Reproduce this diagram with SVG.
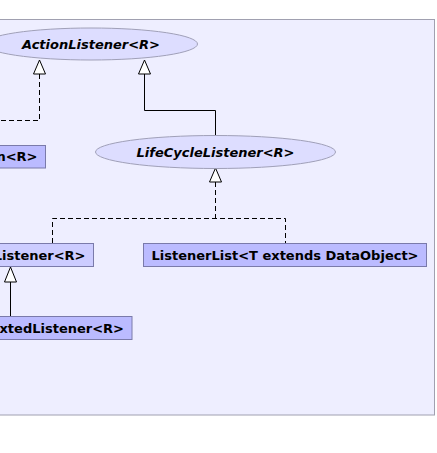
<svg xmlns="http://www.w3.org/2000/svg" width="437" height="453" viewBox="0 0 437 453">
<style>
.bg{fill:#EEEEFF;stroke:#A0A0B0;stroke-width:1}
.box{fill:#BBBBFF;stroke:#7A7AAA;stroke-width:1}
.boxl{fill:#CCCCFF;stroke:#7A7AAA;stroke-width:1}
.ell{fill:#DDDDFF;stroke:#A0A0B8;stroke-width:1}
.t{font-family:"DejaVu Sans",sans-serif;font-size:13px;font-weight:bold;fill:#000}
.ti{font-style:italic}
.solid{fill:none;stroke:#000;stroke-width:1}
.dash{fill:none;stroke:#000;stroke-width:1;stroke-dasharray:5,3}
.head{fill:#fff;stroke:#000;stroke-width:1}
</style>
<rect class="bg" x="-10" y="19.5" width="444.5" height="395.5"/>
<g id="connectors">
<path class="dash" d="M39.5,74 V120.5 H-5"/>
<polygon class="head" points="39.5,60 33.5,74 45.5,74"/>
<path class="solid" d="M144.5,74 V110.5 H215.5 V135.5"/>
<polygon class="head" points="144.5,60 138.5,74 150.5,74"/>
<path class="dash" d="M215.5,182 V218.5"/>
<path class="dash" d="M52.5,243 V218.5 H285.5 V243"/>
<polygon class="head" points="215.5,168 209.5,182 221.5,182"/>
<path class="solid" d="M10.5,282 V316.5"/>
<polygon class="head" points="10.5,267 4.5,282 16.5,282"/>
</g>
<g id="ActionListener">
<ellipse class="ell" cx="91" cy="44" rx="106.5" ry="16"/>
<text class="t ti" x="91" y="48.5" text-anchor="middle">ActionListener&lt;R&gt;</text>
</g>
<g id="LifeCycleListener">
<ellipse class="ell" cx="215.5" cy="152" rx="120" ry="16.5"/>
<text class="t ti" x="215.5" y="157" text-anchor="middle">LifeCycleListener&lt;R&gt;</text>
</g>
<g id="AdapterNode">
<rect class="box" x="-20" y="145.5" width="65.5" height="22.5"/>
<text class="t" x="37.5" y="161" text-anchor="end">n&lt;R&gt;</text>
</g>
<g id="Listener">
<rect class="boxl" x="-20" y="243.5" width="113.5" height="23"/>
<text class="t" x="85.5" y="259.5" text-anchor="end">Listener&lt;R&gt;</text>
</g>
<g id="ListenerList">
<rect class="box" x="143.5" y="243.5" width="283" height="23"/>
<text class="t" x="285" y="259.5" text-anchor="middle">ListenerList&lt;T extends DataObject&gt;</text>
</g>
<g id="ExtendedListener">
<rect class="box" x="-20" y="316.5" width="152" height="23"/>
<text class="t" x="124" y="332.5" text-anchor="end">xtedListener&lt;R&gt;</text>
</g>
</svg>
